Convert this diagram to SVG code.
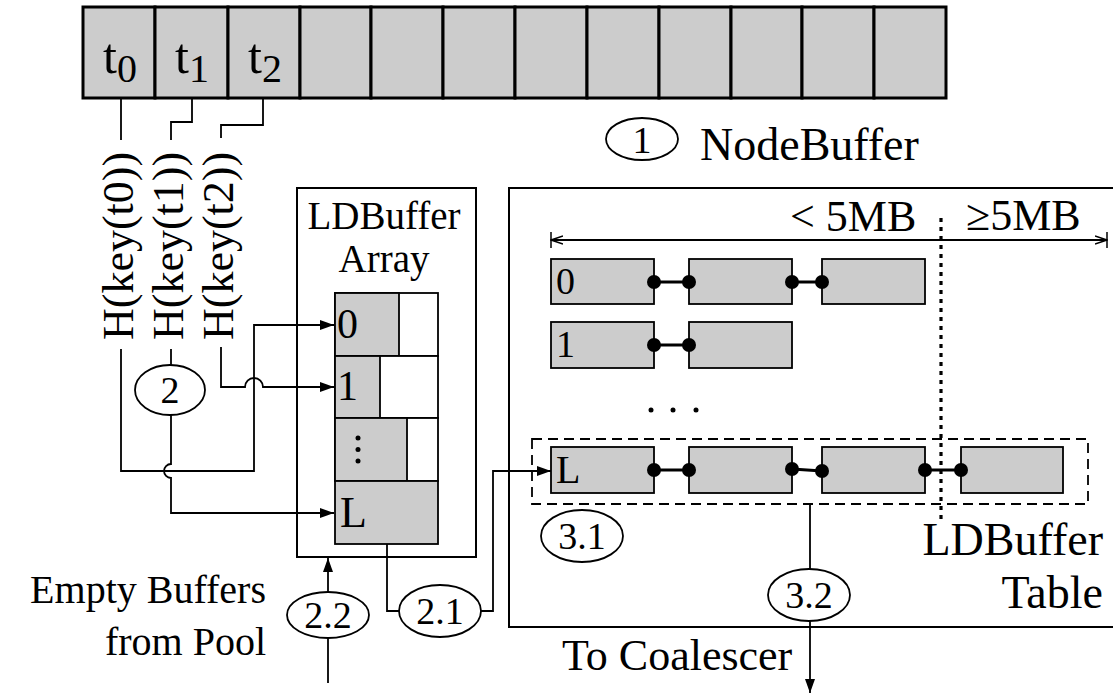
<svg xmlns="http://www.w3.org/2000/svg" width="1113" height="694" viewBox="0 0 1113 694" font-family="'Liberation Serif', 'Times New Roman', Times, serif">
<style>
text{font-family:'Liberation Serif','Times New Roman',Times,serif;fill:#000}
.cell{fill:#cccccc;stroke:#000;stroke-width:3}
.g{fill:#cccccc;stroke:#000;stroke-width:1.8}
.w{fill:#fff;stroke:#000;stroke-width:1.8}
.ln{fill:none;stroke:#000;stroke-width:1.8}
.lk{fill:none;stroke:#000;stroke-width:3}
.el{fill:#fff;stroke:#000;stroke-width:1.8}
.lab{font-size:38px;text-anchor:middle}
.big{font-size:44px}
</style>
<defs>
<marker id="ah" viewBox="0 0 14 10" refX="14" refY="5" markerWidth="14" markerHeight="10" markerUnits="userSpaceOnUse" orient="auto">
<path d="M0,0 L14,5 L0,10 Z" fill="#000"/>
</marker>
<marker id="oa" viewBox="0 -4 13 18" refX="12" refY="5" markerWidth="13" markerHeight="18" markerUnits="userSpaceOnUse" orient="auto">
<path d="M0,1 L12,5 L0,9" fill="none" stroke="#000" stroke-width="1.5"/>
<path d="M12,-3 V13" stroke="#000" stroke-width="1.5"/>
</marker>
</defs>

<g id="nodebuffer">
<rect class="cell" x="83" y="7" width="72" height="91"/>
<rect class="cell" x="155" y="7" width="73" height="91"/>
<rect class="cell" x="228" y="7" width="72" height="91"/>
<rect class="cell" x="300" y="7" width="71" height="91"/>
<rect class="cell" x="371" y="7" width="72" height="91"/>
<rect class="cell" x="443" y="7" width="72" height="91"/>
<rect class="cell" x="515" y="7" width="72" height="91"/>
<rect class="cell" x="587" y="7" width="72" height="91"/>
<rect class="cell" x="659" y="7" width="72" height="91"/>
<rect class="cell" x="731" y="7" width="71" height="91"/>
<rect class="cell" x="802" y="7" width="72" height="91"/>
<rect class="cell" x="874" y="7" width="72" height="91"/>
<text x="103" y="73" font-size="50">t<tspan font-size="40" dy="9">0</tspan></text>
<text x="175" y="73" font-size="50">t<tspan font-size="40" dy="9">1</tspan></text>
<text x="248" y="73" font-size="50">t<tspan font-size="40" dy="9">2</tspan></text>
</g>

<g id="nodebuffer-label">
<ellipse class="el" cx="642" cy="139" rx="36" ry="21"/>
<text class="lab" x="642" y="153" font-size="38">1</text>
<text x="700" y="160" font-size="46">NodeBuffer</text>
</g>

<g id="hash-labels">
<text class="big" transform="translate(133,340) rotate(-90)">H(key(t0))</text>
<text class="big" transform="translate(183,340) rotate(-90)">H(key(t1))</text>
<text class="big" transform="translate(233,340) rotate(-90)">H(key(t2))</text>
</g>

<g id="step2">
<ellipse class="el" cx="170" cy="390" rx="35" ry="25"/>
<text class="lab" x="170" y="403">2</text>
</g>

<g id="ldbuffer-array">
<rect x="297" y="188" width="179" height="369" fill="none" stroke="#000" stroke-width="2"/>
<text x="384" y="229" font-size="39" text-anchor="middle">LDBuffer</text>
<text x="384" y="272" font-size="39" text-anchor="middle">Array</text>
<rect class="w" x="335" y="293" width="103" height="63"/>
<rect class="g" x="335" y="293" width="64" height="63"/>
<rect class="w" x="335" y="356" width="103" height="62"/>
<rect class="g" x="335" y="356" width="45" height="62"/>
<rect class="w" x="335" y="418" width="103" height="63"/>
<rect class="g" x="335" y="418" width="72" height="63"/>
<rect class="g" x="335" y="481" width="103" height="63"/>
<text x="337" y="338" font-size="42">0</text>
<text x="337" y="400" font-size="42">1</text>
<circle cx="358" cy="438" r="2.5"/>
<circle cx="358" cy="449.5" r="2.5"/>
<circle cx="358" cy="461" r="2.5"/>
<text x="340" y="527" font-size="44">L</text>
</g>

<g id="empty-buffers">
<text x="266" y="603" font-size="40" text-anchor="end">Empty Buffers</text>
<text x="266" y="655" font-size="40" text-anchor="end">from Pool</text>
</g>

<g id="step22">
<ellipse class="el" cx="328" cy="615" rx="41" ry="23"/>
<text class="lab" x="328" y="628">2.2</text>
</g>

<g id="step21">
<ellipse class="el" cx="440" cy="611" rx="41" ry="26"/>
<text class="lab" x="440" y="624">2.1</text>
</g>

<g id="ldbuffer-table">
<path d="M1113,188 H509 V627 H1113" fill="none" stroke="#000" stroke-width="2"/>
<text class="big" x="790" y="231">&lt; 5MB</text>
<text class="big" x="966" y="230">≥5MB</text>
<line x1="941" y1="218" x2="941" y2="520" stroke="#000" stroke-width="3.2" stroke-dasharray="4 5"/>
<rect x="532" y="439" width="556" height="65" fill="none" stroke="#000" stroke-width="1.8" stroke-dasharray="10 6"/>
<rect class="g" x="551" y="259" width="103" height="45"/>
<rect class="g" x="689" y="259" width="103" height="45"/>
<rect class="g" x="822" y="259" width="103" height="45"/>
<rect class="g" x="551" y="322" width="103" height="46"/>
<rect class="g" x="689" y="322" width="103" height="46"/>
<rect class="g" x="551" y="447" width="103" height="46"/>
<rect class="g" x="689" y="447" width="103" height="46"/>
<rect class="g" x="822" y="447" width="103" height="46"/>
<rect class="g" x="961" y="447" width="102" height="46"/>
<text x="556" y="294" font-size="38">0</text>
<text x="556" y="357" font-size="38">1</text>
<text x="556" y="483" font-size="40">L</text>
<circle cx="651" cy="410" r="2.5"/>
<circle cx="673" cy="410" r="2.5"/>
<circle cx="696" cy="410" r="2.5"/>
<text x="1103" y="555" font-size="46" text-anchor="end">LDBuffer</text>
<text x="1103" y="608" font-size="46" text-anchor="end">Table</text>
</g>

<g id="links">
<line class="lk" x1="654" y1="282" x2="689" y2="282"/>
<circle cx="654" cy="282" r="7"/><circle cx="689" cy="282" r="7"/>
<line class="lk" x1="792" y1="282" x2="822" y2="282"/>
<circle cx="792" cy="282" r="7"/><circle cx="822" cy="282" r="7"/>
<line class="lk" x1="654" y1="345" x2="689" y2="345"/>
<circle cx="654" cy="345" r="7"/><circle cx="689" cy="345" r="7"/>
<line class="lk" x1="654" y1="470" x2="689" y2="470"/>
<circle cx="654" cy="470" r="7"/><circle cx="689" cy="470" r="7"/>
<line class="lk" x1="792" y1="469" x2="822" y2="471"/>
<circle cx="792" cy="469" r="7"/><circle cx="822" cy="471" r="7"/>
<line class="lk" x1="925" y1="470" x2="961" y2="470"/>
<circle cx="925" cy="470" r="7"/><circle cx="961" cy="470" r="7"/>
</g>

<g id="step31">
<ellipse class="el" cx="582" cy="536" rx="41" ry="26"/>
<text class="lab" x="582" y="549">3.1</text>
</g>

<g id="step32">
<ellipse class="el" cx="809" cy="595" rx="41" ry="26"/>
<text class="lab" x="809" y="608">3.2</text>
</g>

<g id="to-coalescer">
<text class="big" x="562" y="670">To Coalescer</text>
</g>

<g id="connectors">
<path class="ln" d="M121,98 V140"/>
<path class="ln" d="M192,98 V122 H171 V140"/>
<path class="ln" d="M263,98 V125 H221 V138"/>
<path class="ln" d="M121,349 V471 H254 V325 H334" marker-end="url(#ah)"/>
<path class="ln" d="M171,349 V365"/>
<path class="ln" d="M171,415 V464 A7,7 0 0 0 171,478 V513 H334" marker-end="url(#ah)"/>
<path class="ln" d="M221,347 V387 H245 A9,9 0 0 1 263,387 H334" marker-end="url(#ah)"/>
<path class="ln" d="M328,683 V638"/>
<path class="ln" d="M328,592 V558" marker-end="url(#ah)"/>
<path class="ln" d="M387,544 V611 H399"/>
<path class="ln" d="M481,611 H493 V471 H551" marker-end="url(#ah)"/>
<path class="ln" d="M810,504 V569"/>
<path class="ln" d="M810,621 V693" marker-end="url(#ah)"/>
<line x1="1107" y1="240" x2="551" y2="240" stroke="#000" stroke-width="1.8" marker-end="url(#oa)"/>
<line x1="551" y1="240" x2="1107" y2="240" stroke="#000" stroke-width="1.8" marker-end="url(#oa)"/>
</g>
</svg>
